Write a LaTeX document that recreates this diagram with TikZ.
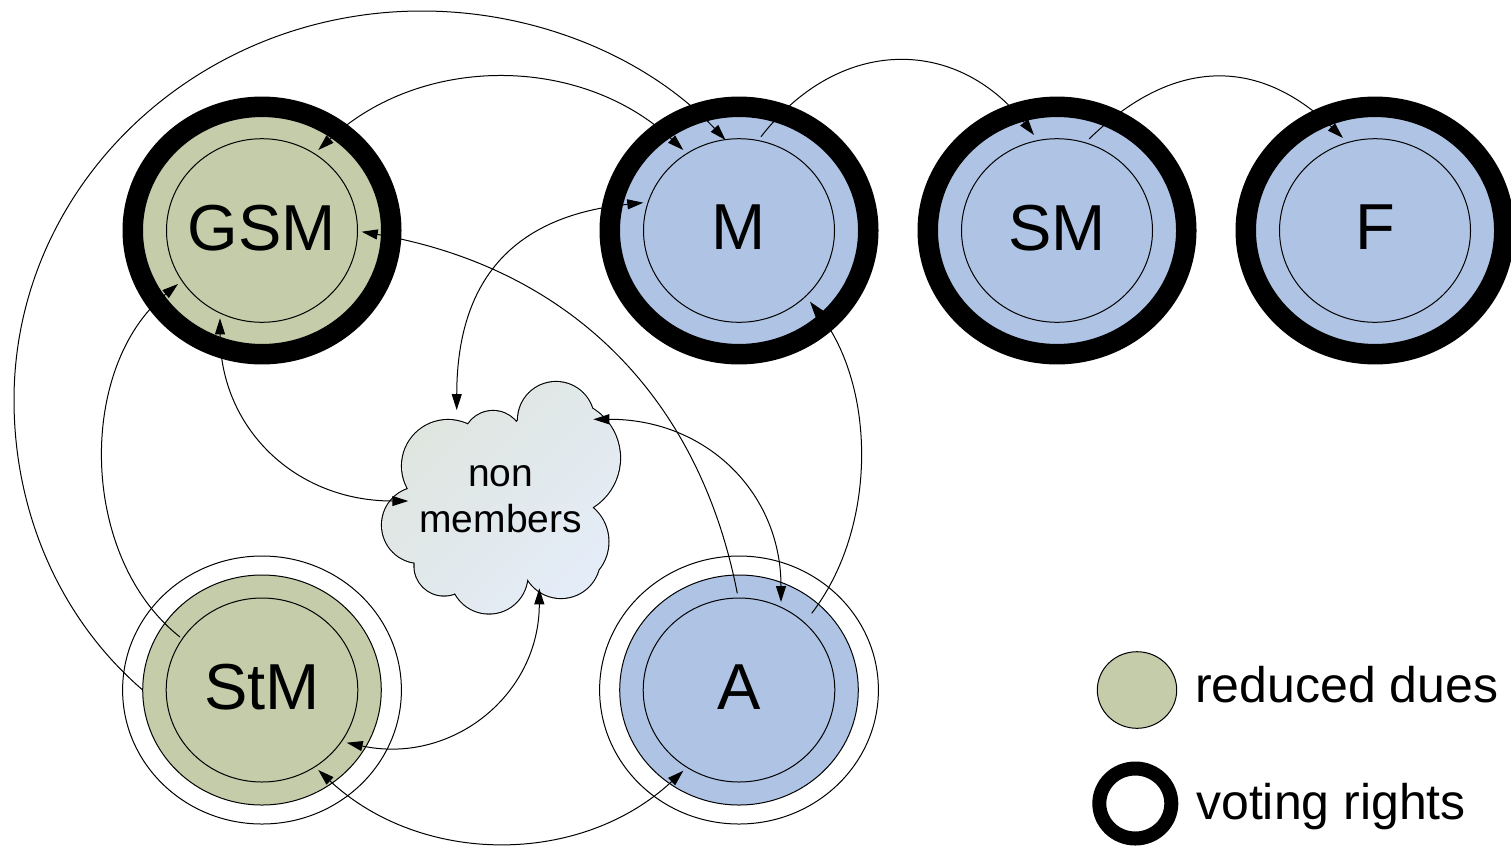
\documentclass[tikz,border=0pt]{standalone}
\usepackage{fontspec}
\setmainfont{Liberation Sans}
\usetikzlibrary{shapes.geometric,arrows.meta}
\definecolor{gsmgreen}{HTML}{C4CCA9}
\definecolor{mblue}{HTML}{AFC4E4}
\definecolor{cloudA}{HTML}{DFE5DE}
\definecolor{cloudB}{HTML}{E4ECF8}
\newcommand\nodefont{\fontsize{65}{78}\selectfont}
\newcommand\cloudfont{\fontsize{39}{46}\selectfont}
\newcommand\legfont{\fontsize{50}{60}\selectfont}
\def\cloudpath{(448,466) circle[radius=46pt] (493,441) circle[radius=30pt] (556,420) circle[radius=38pt] (562,458) circle[radius=58pt] (564,541.7) circle[radius=44.4pt] (561,559) circle[radius=39pt] (489,575) circle[radius=38.5pt] (444,566) circle[radius=29.5pt] (420,525) circle[radius=38pt] (500,500) circle[radius=70pt]}
\begin{document}
\begin{tikzpicture}[x=1pt,y=-1pt,
  ring/.style={ellipse, draw=black, line width=20.5pt, minimum width=258.5pt, minimum height=247.4pt, inner sep=0pt, outer sep=0pt, font=\nodefont, text depth=6pt},
  innerring/.style={ellipse, draw=black, line width=1pt, minimum width=191pt, minimum height=183.6pt, inner sep=0pt, outer sep=0pt},
  plainfill/.style={ellipse, draw=black, line width=1pt, minimum width=238.6pt, minimum height=230pt, inner sep=0pt, outer sep=0pt, font=\nodefont, text depth=6pt},
  outerring/.style={ellipse, draw=black, line width=1pt, minimum width=278.8pt, minimum height=268pt, inner sep=0pt, outer sep=0pt},
  conn/.style={line width=1pt, draw=black},
  onearrow/.style={-{Triangle[length=16pt,width=10pt]}},
  twoarrow/.style={{Triangle[length=16pt,width=10pt]}-{Triangle[length=16pt,width=10pt]}}
]
\useasboundingbox (0,0) rectangle (1511,847);
\fill[white] (0,0) rectangle (1511,847);

% voting-rights members
\node[ring, fill=gsmgreen] (GSM) at (262,230.5) {GSM};
\node[innerring] (GSMi) at (262,230.5) {};
\node[ring, fill=mblue] (M) at (739,230.5) {M};
\node[innerring] (Mi) at (739,230.5) {};
\node[ring, fill=mblue] (SM) at (1057,230.5) {SM};
\node[innerring] (SMi) at (1057,230.5) {};
\node[ring, fill=mblue] (F) at (1375,230.5) {F};
\node[innerring] (Fi) at (1375,230.5) {};

% other members
\node[outerring] (StMo) at (262,690) {};
\node[plainfill, fill=gsmgreen] (StM) at (262,690) {StM};
\node[innerring, minimum width=191.6pt, minimum height=184pt] (StMi) at (262,690) {};
\node[outerring] (Ao) at (739,690) {};
\node[plainfill, fill=mblue] (A) at (739,690) {A};
\node[innerring, minimum width=191.6pt, minimum height=184pt] (Ai) at (739,690) {};

% cloud of non members
\draw[black, line width=2.2pt] \cloudpath;
\shade[left color=cloudA, right color=cloudB, shading angle=45] \cloudpath;
\node[font=\cloudfont, align=center, inner sep=0pt] (NM) at (500.7,499.5) {non\\members};

% connectors
\draw[conn,onearrow] (StM.west) .. controls (58,617) and (14,510) .. (14,400) .. controls (14,185) and (197,11) .. (422,11) .. controls (538,11) and (648,58) .. ([shift={(-13.5,-90.5)}]M.center);
\draw[conn,onearrow] ([shift={(-82,-53)}]StM.center) .. controls (78.3,556.5) and (77.2,366.4) .. ([shift={(-84,53.5)}]GSM.center);
\draw[conn,twoarrow] ([shift={(-42,87.8)}]GSM.center) .. controls (220,428) and (295,501) .. ([shift={(-92.4,1.5)}]NM.center);
\draw[conn,onearrow] ([shift={(-1.7,-96.7)}]A.center) .. controls (698.4,393.7) and (567.1,267.4) .. ([shift={(99.7,1.2)}]GSM.center);
\draw[conn,twoarrow] ([shift={(-44,-89.5)}]NM.center) .. controls (457,273.4) and (519.6,215.3) .. ([shift={(-95.7,-27.8)}]M.center);
\draw[conn,twoarrow] ([shift={(92.6,-80.2)}]NM.center) .. controls (705.8,419) and (781,492.2) .. ([shift={(42,-88)}]A.center);
\draw[conn,onearrow] ([shift={(72.7,-76.7)}]A.center) .. controls (877.6,527.7) and (876.2,386.9) .. ([shift={(71,71.2)}]M.center);
\draw[conn,twoarrow] ([shift={(84.7,52.7)}]StM.center) .. controls (451.6,765) and (539.3,695.5) .. ([shift={(38.6,88.8)}]NM.center);
\draw[conn,twoarrow] ([shift={(56.3,80)}]StM.center) .. controls (421,865.8) and (580.6,866.5) .. ([shift={(-55.7,80.7)}]A.center);
\draw[conn,twoarrow] ([shift={(56.3,-80.5)}]GSM.center) .. controls (421,54.2) and (580.6,54.2) .. ([shift={(-55.7,-80.5)}]M.center);
\draw[conn,onearrow] ([shift={(22,-93.8)}]M.center) .. controls (839,36) and (956,36) .. ([shift={(-23,-95.5)}]SM.center);
\draw[conn,onearrow] ([shift={(32,-91.5)}]SM.center) .. controls (1173.5,56.9) and (1258.5,56.9) .. ([shift={(-32,-92.5)}]F.center);

% legend
\node[ellipse, draw=black, line width=1pt, fill=gsmgreen, minimum width=79.4pt, minimum height=76.6pt, inner sep=0pt] (legG) at (1137,690) {};
\node[ellipse, draw=black, line width=14pt, minimum width=72pt, minimum height=70pt, inner sep=0pt] (legV) at (1135.3,803.5) {};
\node[font=\legfont, anchor=base west, inner sep=0pt] (legGt) at (1195,702.5) {reduced dues};
\node[font=\legfont, anchor=base west, inner sep=0pt] (legVt) at (1196,819) {voting rights};
\end{tikzpicture}
\end{document}
